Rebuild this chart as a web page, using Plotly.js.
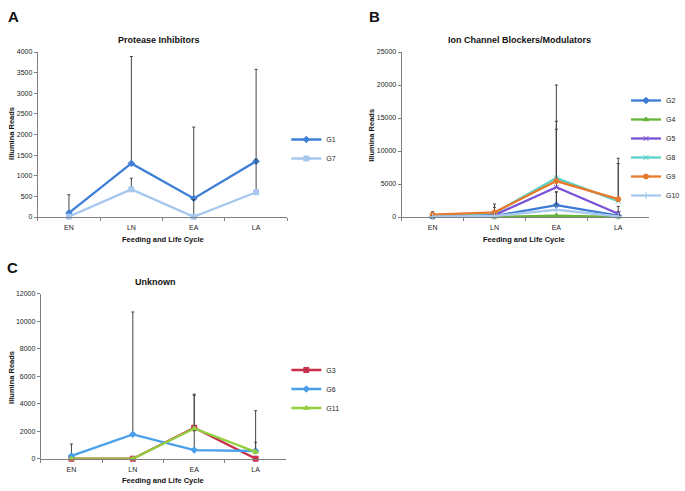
<!DOCTYPE html>
<html>
<head>
<meta charset="utf-8">
<script src="https://cdn.plot.ly/plotly-3.0.1.min.js"></script>
<style>html,body{margin:0;padding:0;background:#fff;}#chart{width:685px;height:491px;}</style>
</head>
<body>
<div id="chart"></div>
<script>
// ---- data ----
var categories = ['EN', 'LN', 'EA', 'LA'];

// Panel A: Protease Inhibitors
var aG1 = [100, 1300, 450, 1350];
var aG1Err = [440, 2590, 1730, 2230];
var aG7 = [10, 670, 5, 600];
var aG7Err = [0, 270, 420, 800];

// Panel B: Ion Channel Blockers/Modulators
var bG2 = [60, 150, 1800, 200];
var bG2Err = [150, 300, 2000, 600];
var bG4 = [30, 20, 200, 30];
var bG4Err = [50, 100, 200, 50];
var bG5 = [80, 300, 4500, 500];
var bG5Err = [150, 400, 8800, 1100];
var bG8 = [250, 600, 5900, 2400];
var bG8Err = [300, 870, 8600, 5700];
var bG9 = [350, 700, 5450, 2700];
var bG9Err = [450, 1270, 14550, 6200];
var bG10 = [50, 150, 1100, 100];
var bG10Err = [80, 300, 2700, 200];

// Panel C: Unknown
var cG3 = [0, 0, 2250, 0];
var cG3Err = [0, 0, 2450, 0];
var cG6 = [200, 1770, 630, 560];
var cG6Err = [870, 8900, 1400, 630];
var cG11 = [0, 0, 2200, 490];
var cG11Err = [0, 0, 2400, 3000];

var FONT = 'Liberation Sans, Arial, sans-serif';

function zeros(n){ var a=[]; for (var i=0;i<n;i++) a.push(0); return a; }

function series(name, y, err, color, symbol, xa, ya, legend) {
  return {
    type: 'scatter', mode: 'lines+markers', name: name,
    x: categories, y: y, xaxis: xa, yaxis: ya, legend: legend,
    cliponaxis: false,
    line: {color: color, width: 2.3},
    marker: {color: color, symbol: symbol, size: 5, line: {color: color, width: 1}},
    error_y: {type: 'data', symmetric: false, array: err, arrayminus: zeros(err.length),
              color: '#444', thickness: 1, width: 1.5}
  };
}

var data = [
  series('G1', aG1, aG1Err, '#3f7fd6', 'diamond', 'x', 'y', 'legend'),
  series('G7', aG7, aG7Err, '#a6c8ee', 'square', 'x', 'y', 'legend'),

  series('G2', bG2, bG2Err, '#3c7ad6', 'diamond', 'x2', 'y2', 'legend2'),
  series('G4', bG4, bG4Err, '#66b43a', 'triangle-up', 'x2', 'y2', 'legend2'),
  series('G5', bG5, bG5Err, '#7a52d6', 'x-thin-open', 'x2', 'y2', 'legend2'),
  series('G8', bG8, bG8Err, '#5ad2c8', 'x-thin-open', 'x2', 'y2', 'legend2'),
  series('G9', bG9, bG9Err, '#e8792a', 'circle', 'x2', 'y2', 'legend2'),
  series('G10', bG10, bG10Err, '#a8c8ee', 'cross-thin-open', 'x2', 'y2', 'legend2'),

  series('G3', cG3, cG3Err, '#c8304a', 'square', 'x3', 'y3', 'legend3'),
  series('G6', cG6, cG6Err, '#4aa0ea', 'diamond', 'x3', 'y3', 'legend3'),
  series('G11', cG11, cG11Err, '#92d03e', 'triangle-up', 'x3', 'y3', 'legend3')
];

function xax(domain, anchor) {
  return {domain: domain, anchor: anchor, type: 'category', range: [-0.5, 3.5],
    showline: true, linecolor: '#808080', linewidth: 1,
    ticks: 'outside', tickson: 'boundaries', ticklen: 3, tickcolor: '#808080',
    ticklabelstandoff: 4,
    tickfont: {size: 7, family: FONT, color: '#222'},
    showgrid: false, zeroline: false, fixedrange: true};
}
function yax(domain, anchor, max, dtick) {
  return {domain: domain, anchor: anchor, range: [0, max], dtick: dtick, tick0: 0,
    tickformat: 'd', exponentformat: 'none', separatethousands: false,
    showline: true, linecolor: '#808080', linewidth: 1,
    ticks: 'outside', ticklen: 3, tickcolor: '#808080',
    tickfont: {size: 7, family: FONT, color: '#222'},
    showgrid: false, zeroline: false, fixedrange: true};
}

function ann(text, x, y, size, angle) {
  return {text: text, x: x, y: y, xref: 'paper', yref: 'paper', showarrow: false,
    xanchor: 'center', yanchor: 'middle', textangle: angle || 0,
    font: {size: size, family: FONT, color: '#111'}};
}

var W = 685, H = 491;
function px(x){ return x / W; }
function py(y){ return 1 - y / H; }

var legendBase = {bgcolor: 'rgba(0,0,0,0)', font: {size: 7, family: FONT, color: '#222'},
  itemwidth: 30, yanchor: 'middle', xanchor: 'left', tracegroupgap: 0};

var layout = {
  width: W, height: H,
  margin: {l: 0, r: 0, t: 0, b: 0},
  paper_bgcolor: '#fff', plot_bgcolor: '#fff',
  showlegend: true,
  xaxis: xax([px(38), px(289)], 'y'),
  yaxis: yax([py(217), py(52)], 'x', 4000, 500),
  xaxis2: xax([px(404), px(653)], 'y2'),
  yaxis2: yax([py(217), py(52)], 'x2', 25000, 5000),
  xaxis3: xax([px(41), px(288)], 'y3'),
  yaxis3: yax([py(458.7), py(293.7)], 'x3', 12000, 2000),
  legend: Object.assign({}, legendBase, {x: px(288), y: py(149)}),
  legend2: Object.assign({}, legendBase, {x: px(630), y: py(148)}),
  legend3: Object.assign({}, legendBase, {x: px(288), y: py(389)}),
  annotations: [
    ann('<b>A</b>', px(14), py(17), 15),
    ann('<b>Protease Inhibitors</b>', px(160), py(40), 9),
    ann('<b>Feeding and Life Cycle</b>', px(163.5), py(239), 7.5),
    ann('<b>Illumina Reads</b>', px(12), py(133), 7.5, -90),

    ann('<b>B</b>', px(377), py(17), 15),
    ann('<b>Ion Channel Blockers/Modulators</b>', px(523), py(40), 9),
    ann('<b>Feeding and Life Cycle</b>', px(527), py(239), 7.5),
    ann('<b>Illumina Reads</b>', px(373), py(135), 7.5, -90),

    ann('<b>C</b>', px(13), py(267), 15),
    ann('<b>Unknown</b>', px(156), py(282), 9),
    ann('<b>Feeding and Life Cycle</b>', px(164), py(480), 7.5),
    ann('<b>Illumina Reads</b>', px(11), py(377), 7.5, -90)
  ]
};

Plotly.newPlot('chart', data, layout, {displayModeBar: false, staticPlot: true});
</script>
</body>
</html>
